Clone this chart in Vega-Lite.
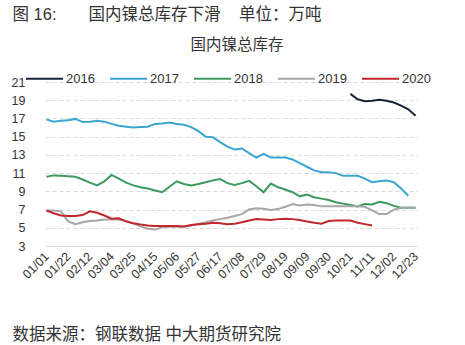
{
  "$schema": "https://vega.github.io/schema/vega-lite/v6.json",
  "width": 372,
  "height": 164,
  "autosize": "none",
  "padding": {"left": 45, "top": 82, "right": 48, "bottom": 99},
  "background": "white",
  "config": {"font": "Liberation Sans, Noto Sans CJK SC", "view": {"stroke": null}},
  "title": {"text": "国内镍总库存", "anchor": "middle", "frame": "group", "fontSize": 15.5, "fontWeight": "normal", "color": "#333333", "font": "Liberation Sans, Noto Sans CJK SC", "offset": 0, "dy": 47, "dx": 6},
  "data": {"values": [
    {"d": "01/01", "2017": 16.9, "2018": 10.6, "2019": 6.9, "2020": 6.9},
    {"d": "01/08", "2017": 16.65, "2018": 10.75, "2019": 6.9, "2020": 6.6},
    {"d": "01/15", "2017": 16.75, "2018": 10.7, "2019": 6.8, "2020": 6.35},
    {"d": "01/22", "2017": 16.8, "2018": 10.65, "2019": 5.7, "2020": 6.3},
    {"d": "01/29", "2017": 16.95, "2018": 10.6, "2019": 5.4, "2020": 6.3},
    {"d": "02/05", "2017": 16.6, "2018": 10.3, "2019": 5.6, "2020": 6.4},
    {"d": "02/12", "2017": 16.65, "2018": 9.95, "2019": 5.75, "2020": 6.8},
    {"d": "02/19", "2017": 16.75, "2018": 9.65, "2019": 5.8, "2020": 6.65},
    {"d": "02/26", "2017": 16.65, "2018": 10.1, "2019": 5.9, "2020": 6.35},
    {"d": "03/04", "2017": 16.4, "2018": 10.8, "2019": 5.9, "2020": 6.0},
    {"d": "03/11", "2017": 16.2, "2018": 10.4, "2019": 5.9, "2020": 6.05},
    {"d": "03/18", "2017": 16.1, "2018": 9.95, "2019": 5.75, "2020": 5.7},
    {"d": "03/25", "2017": 16.0, "2018": 9.65, "2019": 5.45, "2020": 5.5},
    {"d": "04/01", "2017": 16.05, "2018": 9.45, "2019": 5.15, "2020": 5.35},
    {"d": "04/08", "2017": 16.1, "2018": 9.3, "2019": 4.9, "2020": 5.25},
    {"d": "04/15", "2017": 16.4, "2018": 9.1, "2019": 4.8, "2020": 5.2},
    {"d": "04/22", "2017": 16.45, "2018": 8.9, "2019": 5.05, "2020": 5.2},
    {"d": "04/29", "2017": 16.55, "2018": 9.5, "2019": 5.1, "2020": 5.2},
    {"d": "05/06", "2017": 16.4, "2018": 10.1, "2019": 5.1, "2020": 5.2},
    {"d": "05/13", "2017": 16.3, "2018": 9.8, "2019": 5.1, "2020": 5.15},
    {"d": "05/20", "2017": 16.05, "2018": 9.65, "2019": 5.25, "2020": 5.3},
    {"d": "05/27", "2017": 15.6, "2018": 9.8, "2019": 5.45, "2020": 5.4},
    {"d": "06/03", "2017": 15.0, "2018": 10.0, "2019": 5.6, "2020": 5.45},
    {"d": "06/10", "2017": 14.95, "2018": 10.2, "2019": 5.8, "2020": 5.55},
    {"d": "06/17", "2017": 14.4, "2018": 10.35, "2019": 5.95, "2020": 5.5},
    {"d": "06/24", "2017": 13.9, "2018": 9.9, "2019": 6.1, "2020": 5.4},
    {"d": "07/01", "2017": 13.6, "2018": 9.7, "2019": 6.3, "2020": 5.45},
    {"d": "07/08", "2017": 13.7, "2018": 9.9, "2019": 6.5, "2020": 5.6},
    {"d": "07/15", "2017": 13.2, "2018": 10.15, "2019": 7.0, "2020": 5.8},
    {"d": "07/22", "2017": 12.7, "2018": 9.55, "2019": 7.15, "2020": 5.95},
    {"d": "07/29", "2017": 13.1, "2018": 8.9, "2019": 7.1, "2020": 5.9},
    {"d": "08/05", "2017": 12.7, "2018": 9.85, "2019": 6.95, "2020": 5.85},
    {"d": "08/12", "2017": 12.7, "2018": 9.45, "2019": 7.05, "2020": 5.95},
    {"d": "08/19", "2017": 12.7, "2018": 9.2, "2019": 7.3, "2020": 6.0},
    {"d": "08/26", "2017": 12.5, "2018": 8.9, "2019": 7.6, "2020": 5.95},
    {"d": "09/02", "2017": 12.1, "2018": 8.45, "2019": 7.45, "2020": 5.85},
    {"d": "09/09", "2017": 11.7, "2018": 8.65, "2019": 7.55, "2020": 5.7},
    {"d": "09/16", "2017": 11.3, "2018": 8.35, "2019": 7.5, "2020": 5.55},
    {"d": "09/23", "2017": 11.1, "2018": 8.2, "2019": 7.35, "2020": 5.45},
    {"d": "09/30", "2017": 11.1, "2018": 8.05, "2019": 7.35, "2020": 5.75},
    {"d": "10/07", "2017": 11.0, "2018": 7.8, "2019": 7.35, "2020": 5.8},
    {"d": "10/14", "2017": 10.7, "2018": 7.65, "2019": 7.35, "2020": 5.8},
    {"d": "10/21", "2016": 19.7, "2017": 10.7, "2018": 7.5, "2019": 7.35, "2020": 5.8},
    {"d": "10/28", "2016": 19.1, "2017": 10.7, "2018": 7.35, "2019": 7.35, "2020": 5.55},
    {"d": "11/04", "2016": 18.9, "2017": 10.4, "2018": 7.6, "2019": 7.3, "2020": 5.4},
    {"d": "11/11", "2016": 18.95, "2017": 10.0, "2018": 7.55, "2019": 6.9, "2020": 5.25},
    {"d": "11/18", "2016": 19.05, "2017": 10.1, "2018": 7.85, "2019": 6.5},
    {"d": "11/25", "2016": 18.95, "2017": 10.2, "2018": 7.7, "2019": 6.5},
    {"d": "12/02", "2016": 18.75, "2017": 10.0, "2018": 7.4, "2019": 7.0},
    {"d": "12/09", "2016": 18.4, "2017": 9.3, "2018": 7.2, "2019": 7.2},
    {"d": "12/16", "2016": 18.0, "2017": 8.5, "2018": 7.2, "2019": 7.2},
    {"d": "12/23", "2016": 17.3, "2018": 7.2, "2019": 7.2}
  ]},
  "transform": [
    {"fold": ["2016", "2017", "2018", "2019", "2020"], "as": ["year", "v"]}
  ],
  "mark": {"type": "line", "strokeWidth": 2, "invalid": "filter"},
  "encoding": {
    "x": {
      "field": "d", "type": "ordinal",
      "scale": {"type": "point", "padding": 0.2},
      "axis": {
        "values": ["01/01", "01/22", "02/12", "03/04", "03/25", "04/15", "05/06", "05/27", "06/17", "07/08", "07/29", "08/19", "09/09", "09/30", "10/21", "11/11", "12/02", "12/23"],
        "labelAngle": -45, "labelAlign": "right", "labelBaseline": "middle",
        "labelPadding": 8, "labelFontSize": 12.5, "labelColor": "#333333",
        "ticks": false, "domainColor": "#d9d9d9", "domainWidth": 1, "grid": false,
        "title": "数据来源：钢联数据 中大期货研究院",
        "titleAngle": 0, "titleAlign": "left", "titleBaseline": "alphabetic",
        "titleX": -33, "titleY": 93, "titleFontSize": 16.5, "titleFontWeight": "normal", "titleColor": "#333333"
      }
    },
    "y": {
      "field": "v", "type": "quantitative",
      "scale": {"domain": [3, 21], "nice": false, "zero": false},
      "axis": {
        "values": [3, 5, 7, 9, 11, 13, 15, 17, 19, 21],
        "grid": true, "gridDash": [4, 3], "gridColor": "#d9d9d9",
        "domain": false, "ticks": false, "labelPadding": 20,
        "labelFontSize": 12.5, "labelColor": "#333333",
        "title": "图 16:\u00a0\u00a0\u00a0\u00a0\u00a0\u00a0\u00a0国内镍总库存下滑\u00a0\u00a0\u00a0\u00a0单位：万吨",
        "titleAngle": 0, "titleAlign": "left", "titleBaseline": "alphabetic",
        "titleX": -33, "titleY": -63, "titleFontSize": 16.5, "titleFontWeight": "normal", "titleColor": "#333333"
      }
    },
    "color": {
      "field": "year", "type": "nominal",
      "scale": {"domain": ["2016", "2017", "2018", "2019", "2020"], "range": ["#17243a", "#3aa6cf", "#3c9a5f", "#a6a6a6", "#c0282d"]},
      "legend": {
        "orient": "none", "legendX": -20, "legendY": -23, "direction": "horizontal", "columns": 5,
        "title": null, "symbolType": "stroke", "symbolSize": 1369, "symbolStrokeWidth": 2,
        "labelFontSize": 13, "labelOffset": 2, "columnPadding": 11, "labelColor": "#333333"
      }
    }
  }
}
